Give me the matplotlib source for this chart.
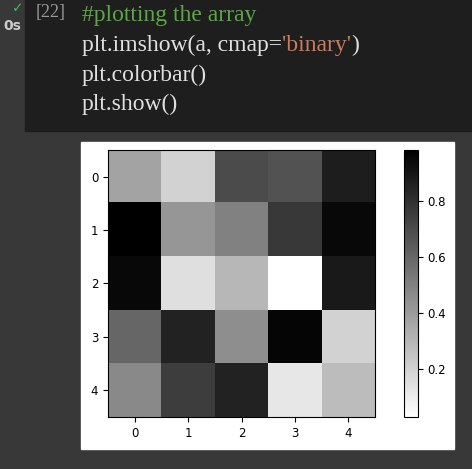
import matplotlib
matplotlib.use("Agg")
import matplotlib.pyplot as plt
import numpy as np
from matplotlib.patches import Rectangle

a = np.array([
    [0.37, 0.20, 0.70, 0.67, 0.87],
    [0.98, 0.42, 0.50, 0.77, 0.95],
    [0.95, 0.15, 0.30, 0.03, 0.88],
    [0.60, 0.85, 0.45, 0.96, 0.20],
    [0.47, 0.75, 0.85, 0.12, 0.28],
])
code_lines = ["plt.imshow(a, cmap=", "plt.colorbar()", "plt.show()"]

W, H = 472, 469
fig = plt.figure(figsize=(W/100, H/100), dpi=100, facecolor="#383838")
def px(x, y, w, h):
    return [x/W, (H-y-h)/H, w/W, h/H]

fig.patches.append(Rectangle((25/W, (H-131)/H), 1-25/W, 131/H, transform=fig.transFigure, color="#1e1e1e", zorder=-2))
fig.patches.append(Rectangle((81/W, (H-449)/H), 373/W, 307/H, transform=fig.transFigure, color="white", zorder=-2))

serif = "Liberation Serif"
fs = 17
fg = "#e0e0e0"
fig.text(82/W, 1-16/H, "#plotting the array", color="#5aa845", fontsize=fs, family=serif, va="center")
t = fig.text(82/W, 1-45/H, code_lines[0], color=fg, fontsize=fs, family=serif, va="center")
fig.canvas.draw()
bb = t.get_window_extent()
t2 = fig.text(bb.x1/W, 1-45/H, "'binary'", color="#ce7b5b", fontsize=fs, family=serif, va="center")
fig.canvas.draw()
bb2 = t2.get_window_extent()
fig.text(bb2.x1/W, 1-45/H, ")", color=fg, fontsize=fs, family=serif, va="center")
fig.text(82/W, 1-75/H, code_lines[1], color=fg, fontsize=fs, family=serif, va="center")
fig.text(82/W, 1-104/H, code_lines[2], color=fg, fontsize=fs, family=serif, va="center")
fig.text(36/W, 1-13/H, "[22]", color="#9a9a9a", fontsize=13, family=serif, va="center")
fig.text(12/W, 1-8/H, "\u2713", color="#3fb950", fontsize=10, va="center")
fig.text(3/W, 1-26/H, "0s", color="#cccccc", fontsize=10, weight="bold", va="center")

ax = fig.add_axes(px(108, 150, 267, 267))
im = ax.imshow(a, cmap="binary", aspect="auto")
ax.set_xticks(range(5)); ax.set_yticks(range(5))
ax.tick_params(labelsize=8.5)
cax = fig.add_axes(px(404, 150, 14, 267))
cb = fig.colorbar(im, cax=cax)
cb.set_ticks([0.2, 0.4, 0.6, 0.8])
cax.tick_params(labelsize=8.5)
fig.savefig("out.png", dpi=100, facecolor=fig.get_facecolor())
